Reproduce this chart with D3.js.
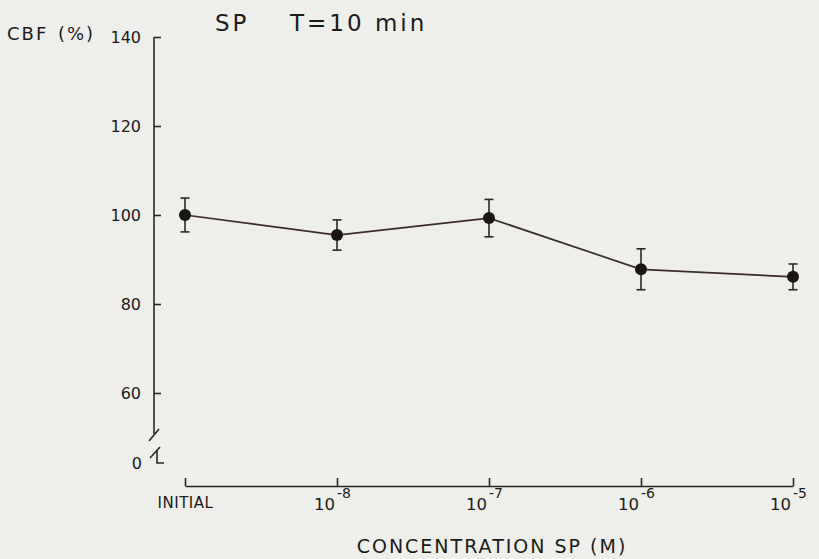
<!DOCTYPE html>
<html>
<head>
<meta charset="utf-8">
<title>SP T=10 min</title>
<style>
	body { margin: 0; background: #eeeeeb; }
	svg text { font-family: "DejaVu Sans", Verdana, sans-serif; fill: #1c1a1a; }
</style>
</head>
<body>
<script src="https://cdnjs.cloudflare.com/ajax/libs/d3/7.8.5/d3.min.js"></script>
<script>
	// values
	var categories = ["INITIAL", "1e-8", "1e-7", "1e-6", "1e-5"];
	var exponents = [null, "-8", "-7", "-6", "-5"];
	var cbf = [100, 95.5, 99.3, 87.8, 86.1];
	var sem = [3.8, 3.4, 4.2, 4.6, 2.9];
	var yTicks = [60, 80, 100, 120, 140];

	var width = 819, height = 559;
	var ink = "#2e2626";

	var svg = d3.select("body").append("svg")
		.attr("width", width)
		.attr("height", height);

	var x = d3.scalePoint().domain(categories).range([185, 793]);
	var y = d3.scaleLinear().domain([60, 140]).range([393, 37]);
	var axisX = 154, baseY = 486;

	// y axis, ticks pointing inward
	var gy = svg.append("g")
		.attr("transform", "translate(" + axisX + ",0)")
		.call(d3.axisLeft(y).tickValues(yTicks).tickSizeInner(-7).tickSizeOuter(0).tickPadding(13));
	gy.select(".domain").remove();
	gy.selectAll(".tick line").attr("stroke", ink).attr("stroke-width", 1.6);
	gy.selectAll(".tick text").style("font-size", "16px").attr("fill", "#1c1a1a");

	// axis line with the break down to zero
	svg.append("line")
		.attr("x1", axisX).attr("x2", axisX)
		.attr("y1", y(140)).attr("y2", 434)
		.attr("stroke", ink).attr("stroke-width", 1.6);
	svg.append("line")
		.attr("x1", axisX - 5).attr("y1", 441).attr("x2", axisX + 5).attr("y2", 429)
		.attr("stroke", ink).attr("stroke-width", 1.6);
	svg.append("line")
		.attr("x1", axisX - 4).attr("y1", 458).attr("x2", axisX + 6).attr("y2", 447)
		.attr("stroke", ink).attr("stroke-width", 1.6);
	svg.append("path")
		.attr("d", "M" + (axisX + 3) + ",450V463H" + (axisX + 10))
		.attr("fill", "none").attr("stroke", ink).attr("stroke-width", 1.6);
	svg.append("text")
		.attr("x", axisX - 12).attr("y", 463).attr("dy", "0.35em")
		.attr("text-anchor", "end")
		.style("font-size", "16px")
		.text("0");

	// x axis
	var gx = svg.append("g")
		.attr("transform", "translate(0," + baseY + ")")
		.call(d3.axisBottom(x).tickSizeInner(-8).tickSizeOuter(0).tickFormat(""));
	gx.select(".domain").attr("stroke", ink).attr("stroke-width", 1.6);
	gx.selectAll(".tick line").attr("stroke", ink).attr("stroke-width", 1.6);
	gx.selectAll(".tick text").remove();

	gx.selectAll(".tick").each(function(d, i) {
		var t = d3.select(this).append("text")
			.attr("text-anchor", "middle");
		if (exponents[i] === null) {
			t.attr("y", 22).style("font-size", "15px").style("letter-spacing", "0.5px").text(d);
		} else {
			t.attr("x", -5).attr("y", 24).style("font-size", "16.5px");
			t.append("tspan").text("10");
			t.append("tspan").attr("dy", -12).attr("dx", 2).style("font-size", "14px").text(exponents[i]);
		}
	});

	// error bars
	var bars = svg.append("g").selectAll("g")
		.data(cbf)
		.join("g")
		.attr("stroke", ink)
		.attr("stroke-width", 1.6);
	bars.append("line")
		.attr("x1", function(d, i) { return x(categories[i]); })
		.attr("x2", function(d, i) { return x(categories[i]); })
		.attr("y1", function(d, i) { return y(d + sem[i]); })
		.attr("y2", function(d, i) { return y(d - sem[i]); });
	bars.append("line")
		.attr("x1", function(d, i) { return x(categories[i]) - 4.5; })
		.attr("x2", function(d, i) { return x(categories[i]) + 4.5; })
		.attr("y1", function(d, i) { return y(d + sem[i]); })
		.attr("y2", function(d, i) { return y(d + sem[i]); });
	bars.append("line")
		.attr("x1", function(d, i) { return x(categories[i]) - 4.5; })
		.attr("x2", function(d, i) { return x(categories[i]) + 4.5; })
		.attr("y1", function(d, i) { return y(d - sem[i]); })
		.attr("y2", function(d, i) { return y(d - sem[i]); });

	// connecting line
	var line = d3.line()
		.x(function(d, i) { return x(categories[i]); })
		.y(function(d) { return y(d); });
	svg.append("path")
		.datum(cbf)
		.attr("d", line)
		.attr("fill", "none")
		.attr("stroke", "#3a2c2c")
		.attr("stroke-width", 1.7);

	svg.append("g").selectAll("circle")
		.data(cbf)
		.join("circle")
		.attr("cx", function(d, i) { return x(categories[i]); })
		.attr("cy", function(d) { return y(d); })
		.attr("r", 6)
		.attr("fill", "#1a1616");

	// titles
	svg.append("text")
		.attr("x", 7).attr("y", 40)
		.style("font-size", "18px").style("letter-spacing", "2px").style("word-spacing", "2px")
		.text("CBF (%)");
	svg.append("text")
		.attr("x", 215).attr("y", 31)
		.style("font-size", "23px").style("letter-spacing", "3px")
		.text("SP");
	svg.append("text")
		.attr("x", 290).attr("y", 31)
		.style("font-size", "23px").style("letter-spacing", "3px")
		.text("T=10 min");
	svg.append("text")
		.attr("x", 492).attr("y", 553)
		.attr("text-anchor", "middle")
		.style("font-size", "19px").style("letter-spacing", "2px")
		.text("CONCENTRATION SP (M)");
</script>
</body>
</html>
